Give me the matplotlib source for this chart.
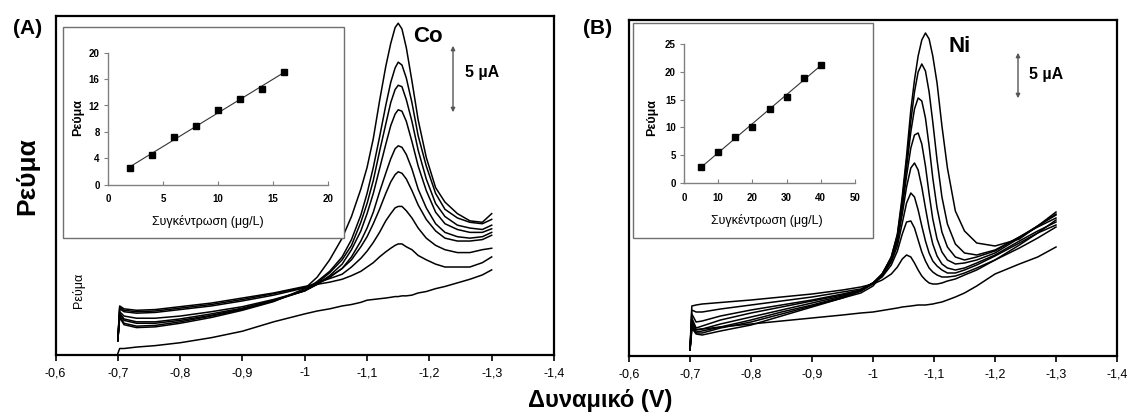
import numpy as np
import matplotlib
matplotlib.use('Agg')
import matplotlib.pyplot as plt
from matplotlib.patches import Rectangle, FancyArrowPatch

plt.rcParams['font.family'] = ['Liberation Sans', 'DejaVu Sans']

# ============ Du lieu (A) Co ============
pot_A = [-0.700, -0.703, -0.710, -0.730, -0.760, -0.800, -0.850, -0.900, -0.950,
         -1.000, -1.020, -1.040, -1.060, -1.075, -1.090, -1.100, -1.110, -1.120,
         -1.130, -1.138, -1.145, -1.150, -1.156, -1.163, -1.172, -1.182, -1.195,
         -1.210, -1.225, -1.245, -1.265, -1.285, -1.300]
co_blank = [0.1, 0.45, 0.45, 0.55, 0.65, 0.85, 1.2, 1.65, 2.3,
            2.85, 3.05, 3.2, 3.4, 3.5, 3.65, 3.8, 3.85, 3.9, 3.95, 4.0, 4.05, 4.05,
            4.1, 4.1, 4.15, 4.3, 4.4, 4.6, 4.75, 5.0, 5.25, 5.55, 5.9]
co_2 = [1.0, 3.4, 3.2, 3.1, 3.15, 3.35, 3.6, 3.95, 4.3,
        4.75, 4.9, 5.05, 5.25, 5.5, 5.8, 6.1, 6.4, 6.8, 7.15, 7.4, 7.6, 7.7,
        7.7, 7.5, 7.3, 6.9, 6.6, 6.3, 6.1, 6.1, 6.1, 6.4, 6.8]
co_4 = [1.0, 3.3, 3.1, 3.0, 3.05, 3.25, 3.5, 3.85, 4.25,
        4.7, 5.0, 5.3, 5.6, 6.1, 6.7, 7.2, 7.8, 8.5, 9.3, 9.8, 10.2, 10.3,
        10.3, 10.0, 9.5, 8.8, 8.1, 7.6, 7.3, 7.1, 7.1, 7.3, 7.4]
co_6 = [1.0, 3.2, 3.0, 2.9, 2.95, 3.15, 3.4, 3.75, 4.15,
        4.65, 5.0, 5.4, 6.0, 6.6, 7.5, 8.2, 9.1, 10.1, 11.2, 12.0, 12.5, 12.7,
        12.6, 12.2, 11.4, 10.4, 9.4, 8.6, 8.1, 7.9, 7.9, 8.0, 8.3]
co_8 = [1.0, 3.0, 2.7, 2.55, 2.55, 2.7, 3.0, 3.35, 3.85,
        4.45, 4.9, 5.4, 6.0, 6.8, 7.9, 8.8, 9.9, 11.3, 12.6, 13.6, 14.3, 14.5,
        14.4, 13.9, 12.9, 11.5, 10.2, 9.1, 8.5, 8.2, 8.1, 8.2, 8.5]
co_10 = [1.0, 2.9, 2.5, 2.3, 2.3, 2.5, 2.85, 3.25, 3.8,
         4.45, 4.9, 5.5, 6.3, 7.3, 8.6, 9.8, 11.2, 12.9, 14.6, 15.9, 16.7, 17.0,
         16.9, 16.2, 14.8, 13.1, 11.4, 9.9, 9.1, 8.7, 8.5, 8.5, 8.75]
co_12 = [1.0, 2.8, 2.4, 2.2, 2.2, 2.4, 2.75, 3.2, 3.75,
         4.45, 5.0, 5.7, 6.6, 7.6, 9.2, 10.5, 12.1, 14.1, 16.0, 17.5, 18.4, 18.7,
         18.6, 17.7, 16.2, 14.2, 12.2, 10.5, 9.6, 9.0, 8.8, 8.7, 9.0]
co_14 = [1.0, 2.7, 2.2, 2.0, 2.05, 2.3, 2.7, 3.15, 3.75,
         4.5, 5.1, 5.8, 6.8, 8.0, 9.7, 11.2, 13.0, 15.1, 17.3, 18.9, 19.9, 20.3,
         20.1, 19.2, 17.5, 15.2, 13.1, 11.2, 10.1, 9.5, 9.2, 9.1, 9.4]
co_16 = [1.0, 2.6, 2.1, 1.9, 1.95, 2.2, 2.6, 3.1, 3.7,
         4.6, 5.4, 6.6, 8.1, 9.6, 11.5, 13.0, 15.0, 17.6, 20.0, 21.6, 22.7, 23.0,
         22.6, 21.3, 19.0, 16.3, 13.7, 11.6, 10.6, 9.8, 9.3, 9.2, 9.8]

# ============ Du lieu (B) Ni ============
pot_B = [-0.700, -0.703, -0.710, -0.720, -0.750, -0.800, -0.850, -0.900, -0.950,
         -0.980, -1.000, -1.015, -1.030, -1.040, -1.048, -1.055, -1.062, -1.068,
         -1.074, -1.080, -1.086, -1.092, -1.098, -1.105, -1.113, -1.122, -1.135,
         -1.150, -1.170, -1.200, -1.240, -1.270, -1.300]
ni_blank = [0.6, 2.6, 2.65, 2.7, 2.9, 3.2, 3.5, 3.8, 4.1,
            4.3, 4.4, 4.55, 4.7, 4.8, 4.9, 4.95, 5.0, 5.05, 5.1, 5.1, 5.1, 5.15,
            5.2, 5.3, 5.4, 5.6, 5.9, 6.3, 7.0, 8.2, 9.2, 9.9, 10.9]
ni_5 = [0.6, 5.0, 5.1, 5.2, 5.35, 5.6, 5.9, 6.2, 6.6,
        6.9, 7.2, 7.6, 8.2, 8.9, 9.7, 10.1, 9.9, 9.3, 8.6, 8.0, 7.6, 7.3,
        7.2, 7.2, 7.3, 7.5, 7.7, 8.1, 8.6, 9.6, 10.8, 11.8, 12.9]
ni_10 = [0.6, 4.6, 4.4, 4.4, 4.7, 5.1, 5.5, 5.9, 6.4,
         6.7, 7.3, 7.9, 9.1, 10.5, 12.2, 13.4, 13.5, 12.8, 11.6, 10.4, 9.5, 8.8,
         8.4, 8.1, 7.9, 7.9, 8.0, 8.3, 8.8, 9.6, 11.1, 12.3, 13.6]
ni_15 = [0.6, 4.2, 3.4, 3.5, 4.0, 4.6, 5.1, 5.6, 6.2,
         6.6, 7.3, 8.0, 9.4, 11.0, 13.3, 15.3, 16.3, 15.9, 14.6, 13.0, 11.5, 10.3,
         9.5, 9.0, 8.6, 8.3, 8.3, 8.6, 9.1, 10.0, 11.3, 12.3, 13.1]
ni_20 = [0.6, 3.8, 2.8, 3.0, 3.6, 4.3, 4.9, 5.5, 6.1,
         6.6, 7.3, 8.1, 9.6, 11.4, 14.2, 16.9, 18.8, 19.3, 18.6, 16.9, 14.8, 12.8,
         11.2, 10.0, 9.2, 8.8, 8.6, 8.8, 9.3, 10.1, 11.5, 12.5, 13.4]
ni_25 = [0.6, 3.5, 2.6, 2.7, 3.2, 3.9, 4.6, 5.3, 6.0,
         6.5, 7.3, 8.2, 9.7, 11.7, 14.8, 18.0, 20.8, 22.1, 22.3, 21.2, 19.0, 16.2,
         13.7, 11.7, 10.4, 9.6, 9.2, 9.3, 9.6, 10.3, 11.8, 13.0, 14.2]
ni_30 = [0.6, 3.3, 2.4, 2.5, 2.9, 3.6, 4.4, 5.1, 5.9,
         6.5, 7.3, 8.2, 9.8, 11.9, 15.2, 18.8, 22.4, 24.7, 25.8, 25.5, 23.8, 21.0,
         17.8, 14.8, 12.4, 10.9, 9.9, 9.6, 9.9, 10.5, 11.9, 12.9, 13.8]
ni_35 = [0.6, 3.0, 2.3, 2.3, 2.8, 3.4, 4.2, 5.0, 5.8,
         6.5, 7.2, 8.2, 9.9, 12.1, 15.6, 19.5, 23.5, 26.4, 28.4, 29.2, 28.5, 26.4,
         23.4, 19.6, 15.9, 13.2, 11.2, 10.3, 10.1, 10.6, 11.9, 13.0, 14.1]
ni_40 = [0.6, 2.8, 2.2, 2.1, 2.5, 3.1, 4.0, 4.9, 5.8,
         6.3, 7.0, 8.1, 9.9, 12.2, 16.0, 20.0, 24.6, 27.6, 30.0, 31.6, 32.3, 31.7,
         30.0, 27.3, 23.0, 18.8, 14.5, 12.5, 11.3, 11.0, 11.7, 13.0, 14.4]

# ============ Duong chuan (inset) ============
co_conc = [2, 4, 6, 8, 10, 12, 14, 16]
co_peak = [2.5, 4.5, 7.2, 8.9, 11.3, 13.0, 14.5, 17.0]
ni_conc = [5, 10, 15, 20, 25, 30, 35, 40]
ni_peak = [2.9, 5.6, 8.3, 10.1, 13.3, 15.5, 18.8, 21.3]

xtick_vals = [-0.6, -0.7, -0.8, -0.9, -1.0, -1.1, -1.2, -1.3, -1.4]
xtick_labels = ['-0,6', '-0,7', '-0,8', '-0,9', '-1', '-1,1', '-1,2', '-1,3', '-1,4']

W, H = 1128, 417


def fx(px):
    return px / W


def fy(py):
    return 1 - py / H


fig = plt.figure(figsize=(W / 100, H / 100), dpi=100)


def main_axes(rect, pot, curves, ymax):
    ax = fig.add_axes(rect)
    for cur in curves:
        ax.plot(pot, cur, color='black', lw=1.1, solid_joinstyle='round')
    ax.set_xlim(-0.6, -1.4)
    ax.set_ylim(0, ymax)
    ax.set_xticks(xtick_vals)
    ax.set_xticklabels(xtick_labels)
    ax.set_yticks([])
    ax.tick_params(axis='x', direction='out', length=4, width=1.2, labelsize=9, pad=5)
    for s in ax.spines.values():
        s.set_linewidth(1.6)
        s.set_color('black')
    return ax


ax_a = main_axes([fx(55.5), fy(355), fx(554) - fx(55.5), fy(16) - fy(355)], pot_A,
                 [co_blank, co_2, co_4, co_6, co_8, co_10, co_12, co_14, co_16], 23.5)
ax_b = main_axes([fx(629), fy(356), fx(1117) - fx(629), fy(20) - fy(356)], pot_B,
                 [ni_blank, ni_5, ni_10, ni_15, ni_20, ni_25, ni_30, ni_35, ni_40], 33.6)


def inset(frame, rect, conc, peak, xmax, ymax, xstep, ystep, ylab_pos, xlab_pos):
    x0, y0, x1, y1 = frame
    fig.add_artist(Rectangle((fx(x0), fy(y1)), fx(x1) - fx(x0), fy(y0) - fy(y1),
                             transform=fig.transFigure, facecolor='white',
                             edgecolor='#707070', lw=1.0, zorder=1))
    ax = fig.add_axes(rect)
    ax.set_zorder(2)
    ax.patch.set_alpha(0)
    k, b = np.polyfit(conc, peak, 1)
    xl = np.array([conc[0], conc[-1]])
    ax.plot(xl, k * xl + b, color='#333333', lw=0.8)
    ax.plot(conc, peak, 's', color='black', ms=3.8)
    ax.set_xlim(0, xmax)
    ax.set_ylim(0, ymax)
    ax.set_xticks(np.arange(0, xmax + 1, xstep))
    ax.set_yticks(np.arange(0, ymax + 1, ystep))
    for s in ['top', 'right']:
        ax.spines[s].set_visible(False)
    for s in ['left', 'bottom']:
        ax.spines[s].set_color('#808080')
        ax.spines[s].set_linewidth(1.0)
    ax.tick_params(axis='x', direction='in', length=3, color='#808080', pad=7)
    ax.tick_params(axis='y', direction='out', length=3, color='#808080', pad=3)
    for lab in ax.get_xticklabels() + ax.get_yticklabels():
        lab.set_fontsize(7)
        lab.set_fontweight('bold')
    fig.text(fx(ylab_pos[0]), fy(ylab_pos[1]), 'Ρεύμα', rotation=90, fontsize=9,
             fontweight='bold', ha='center', va='center', zorder=3)
    fig.text(fx(xlab_pos[0]), fy(xlab_pos[1]), 'Συγκέντρωση (μg/L)', fontsize=9,
             ha='center', va='center', zorder=3)
    return ax


inset((63, 27, 344, 238), [fx(108), fy(184.7), fx(328) - fx(108), fy(52.7) - fy(184.7)],
      co_conc, co_peak, 20, 20, 5, 4, (78, 118), (208, 222))
inset((633, 23, 873, 238), [fx(684), fy(183), fx(855) - fx(684), fy(44) - fy(183)],
      ni_conc, ni_peak, 50, 25, 10, 5, (652, 118), (767, 220))

# --- Nhan ---
fig.text(fx(28), fy(28), '(A)', fontsize=15, fontweight='bold', ha='center', va='center')
fig.text(fx(598), fy(28), '(B)', fontsize=15, fontweight='bold', ha='center', va='center')
fig.text(fx(27), fy(176), 'Ρεύμα', rotation=90, fontsize=19, fontweight='bold',
         ha='center', va='center')
fig.text(fx(79), fy(290), 'Ρεύμα', rotation=90, fontsize=9, ha='center', va='center')
fig.text(fx(600), fy(401), 'Δυναμικό (V)', fontsize=17, fontweight='bold',
         ha='center', va='center')
fig.text(fx(428), fy(37), 'Co', fontsize=16, fontweight='bold', ha='center', va='center')
fig.text(fx(960), fy(47), 'Ni', fontsize=16, fontweight='bold', ha='center', va='center')
fig.text(fx(482), fy(72), '5 µA', fontsize=11.5, fontweight='bold', ha='center', va='center')
fig.text(fx(1046), fy(74), '5 µA', fontsize=11.5, fontweight='bold', ha='center', va='center')

for xa, ya0, ya1 in [(453, 43, 115), (1018, 50, 101)]:
    fig.add_artist(FancyArrowPatch((fx(xa), fy(ya0)), (fx(xa), fy(ya1)),
                                   transform=fig.transFigure, arrowstyle='<|-|>',
                                   mutation_scale=6, color='#555555', lw=1.0))

fig.savefig('out.png', dpi=100)
